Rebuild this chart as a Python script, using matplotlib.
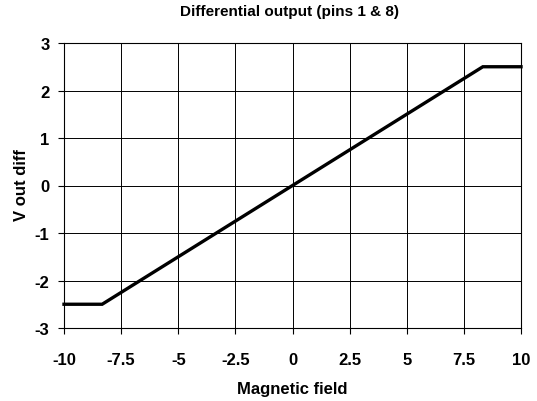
import matplotlib.pyplot as plt

# ---------------------- Data ----------------------

field = [-10, -8.33, 8.33, 10]
v_out = [-2.5, -2.5, 2.5, 2.5]
x_ticks = [-10, -7.5, -5, -2.5, 0, 2.5, 5, 7.5, 10]
x_labels = ['-10', '-7.5', '-5', '-2.5', '0', '2.5', '5', '7.5', '10']
y_ticks = [-3, -2, -1, 0, 1, 2, 3]
y_labels = ['-3', '-2', '-1', '0', '1', '2', '3']

# ---------------------- Plot ----------------------

plt.rcParams['font.family'] = ['Liberation Sans Narrow', 'Liberation Sans', 'DejaVu Sans']
plt.rcParams['font.weight'] = 'bold'

fig = plt.figure(figsize=(5.37, 4.02), dpi=100)
ax = fig.add_axes([64 / 537, 1 - 329 / 402, (521 - 64) / 537, (329 - 44) / 402])

ax.plot(field, v_out, color='black', linewidth=2.4, solid_joinstyle='miter', clip_on=False, zorder=3)

ax.set_xlim(-10, 10)
ax.set_ylim(-3, 3)
ax.set_xticks(x_ticks)
ax.set_xticklabels(x_labels)
ax.set_yticks(y_ticks)
ax.set_yticklabels(y_labels)
ax.grid(True, color='black', linewidth=0.7)
ax.tick_params(direction='out', length=4, width=0.8, labelsize=12)
ax.tick_params(axis='x', pad=13)
ax.tick_params(axis='y', pad=6.5)
for lab in ax.get_xticklabels() + ax.get_yticklabels():
    lab.set_fontweight('bold')
for s in ax.spines.values():
    s.set_linewidth(0.8)

fig.text(290 / 537, 1 - 12 / 402, 'Differential output (pins 1 & 8)',
         ha='center', va='center', fontsize=11, fontweight='bold')
fig.text(292 / 537, 1 - 390 / 402, 'Magnetic field',
         ha='center', va='center', fontsize=12, fontweight='bold')
fig.text(22 / 537, 1 - 185 / 402, 'V out diff', rotation=90,
         ha='center', va='center', fontsize=12, fontweight='bold')

fig.savefig('out.png', dpi=100)
